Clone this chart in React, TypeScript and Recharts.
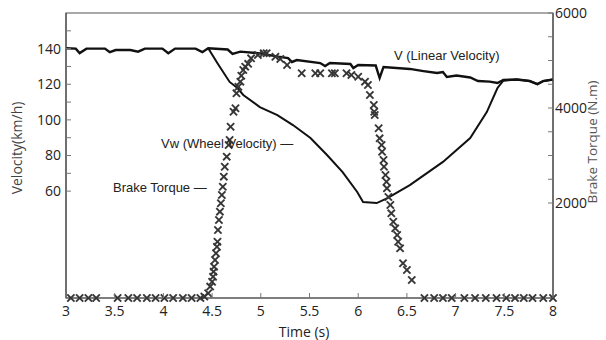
import React from "react";
import { ComposedChart, XAxis, YAxis, Line, Scatter, ReferenceArea } from "recharts";

const WIDTH = 606;
const HEIGHT = 340;

// V (linear velocity), km/h
const linearTime = [3.0, 3.1, 3.14, 3.21, 3.4, 3.45, 3.51, 3.66, 3.74, 3.81, 3.99, 4.05, 4.12, 4.33, 4.4, 4.46, 4.66, 4.71, 4.79, 4.97, 5.18, 5.28, 5.32, 5.37, 5.61, 5.66, 5.71, 5.92, 5.95, 6.0, 6.18, 6.22, 6.26, 6.53, 6.67, 6.81, 6.87, 6.91, 7.01, 7.15, 7.23, 7.35, 7.43, 7.49, 7.63, 7.76, 7.84, 7.9, 8.0];
const linearSpeed = [140.2, 140, 137.5, 140, 140, 138, 139.2, 139.2, 138.3, 140, 140, 137.4, 140, 140, 138, 140.2, 139.5, 137, 138.3, 137.5, 135.5, 134.7, 132.5, 133.6, 131.9, 130.2, 131.9, 131.4, 129.1, 130.8, 130.5, 123.5, 129.7, 128.6, 127.4, 126.3, 126.9, 124.1, 124.9, 123.8, 121.8, 121.5, 120.7, 122.4, 122.7, 121.8, 120.1, 121.8, 122.7];

// Vw (wheel velocity), km/h — identical to V before braking starts
const wheelTime = [4.46, 4.56, 4.68, 4.76, 4.82, 4.99, 5.17, 5.33, 5.51, 5.68, 5.84, 5.99, 6.05, 6.19, 6.3, 6.53, 6.87, 7.15, 7.32, 7.43, 7.49, 7.63, 7.76, 7.84, 7.9, 8.0];
const wheelSpeed = [140.2, 131.4, 121.3, 117.9, 114, 107.2, 102.7, 97.1, 89.8, 80.3, 70.7, 59.5, 53.9, 53.3, 56.1, 63.4, 76.4, 89.8, 104.4, 117.9, 122.0, 122.7, 121.8, 120.1, 121.8, 122.7];

// brake torque samples, N.m
const torqueTime = [
  3.05, 3.14, 3.23, 3.31, 3.53, 3.64, 3.73, 3.83, 3.92, 4.01, 4.1, 4.2, 4.29, 4.38,
  4.42, 4.46, 4.48, 4.5, 4.51, 4.515, 4.52, 4.53, 4.54, 4.55, 4.555, 4.56, 4.57, 4.58, 4.59,
  4.6, 4.61, 4.62, 4.63, 4.65, 4.67, 4.68, 4.69, 4.72, 4.74, 4.75, 4.77, 4.79, 4.8, 4.82,
  4.84, 4.87, 4.9, 4.97, 5.03, 5.06, 5.15, 5.2, 5.27, 5.42, 5.56, 5.61, 5.73, 5.76, 5.88, 5.93, 6.0, 6.07, 6.1,
  6.12, 6.16, 6.165, 6.17, 6.21, 6.22, 6.24, 6.245, 6.26, 6.265, 6.28, 6.29, 6.295, 6.31, 6.33, 6.34,
  6.36, 6.38, 6.4, 6.41, 6.43, 6.46, 6.5, 6.55,
  6.68, 6.78, 6.87, 6.96, 7.09, 7.2, 7.31, 7.42, 7.52, 7.61, 7.7, 7.79, 7.9, 8.0,
];
const torqueValue = [
  0, 0, 0, 0, 0, 0, 0, 0, 0, 0, 0, 0, 0, 0,
  30, 100, 240, 343, 448, 554, 659, 800, 941, 1080, 1185, 1432, 1642, 1817, 1994,
  2168, 2343, 2554, 2764, 2975, 3221, 3326, 3606, 3922, 3994, 4309, 4448, 4554, 4680, 4800,
  4870, 4930, 5046, 5116, 5152, 5152, 5080, 5032, 4905, 4731, 4731, 4731, 4731, 4731, 4731, 4695, 4659, 4554, 4484,
  4274, 4063, 3922, 3853, 3573, 3362, 3221, 3080, 2905, 2764, 2589, 2448, 2309, 2126, 1958, 1783,
  1606, 1467, 1326, 1185, 1046, 731, 589, 379,
  0, 0, 0, 0, 0, 0, 0, 0, 0, 0, 0, 0, 0, 0,
];

const timeTicks = [3, 3.5, 4, 4.5, 5, 5.5, 6, 6.5, 7, 7.5, 8];
const speedTicks = [60, 70, 80, 90, 100, 110, 120, 130, 140, 150];
const speedLabels = [60, 80, 100, 120, 140];
const torqueTicks = [2000, 2500, 3000, 3500, 4000, 4500, 5000, 5500, 6000];
const torqueLabels = [2000, 4000, 6000];

const linearData = linearTime.map((t, i) => ({ t, v: linearSpeed[i] }));
const wheelData = wheelTime.map((t, i) => ({ t, v: wheelSpeed[i] }));
const torqueData = torqueTime.map((t, i) => ({ t, T: torqueValue[i] }));

const tickFont = { fontFamily: "'Open Sans', sans-serif", fontSize: 14, fill: "#222" };
const noteFont = { fontFamily: "'Liberation Sans', Arial, sans-serif", fontSize: 13, fill: "#222" };
const axisColor = "#555";

function LeftTick(props: any) {
  const { x, y, payload } = props;
  return (
    <g>
      <line x1={x} x2={x + 5} y1={y} y2={y} stroke="#777" strokeWidth={1} />
      {speedLabels.includes(payload.value) && (
        <text x={x - 5} y={y} dy="0.35em" textAnchor="end" {...tickFont}>
          {payload.value}
        </text>
      )}
    </g>
  );
}

function RightTick(props: any) {
  const { x, y, payload } = props;
  return (
    <g>
      <line x1={x - 5} x2={x} y1={y} y2={y} stroke="#777" strokeWidth={1} />
      {torqueLabels.includes(payload.value) && (
        <text x={x + 2} y={y} dy="0.35em" textAnchor="start" {...tickFont}>
          {payload.value}
        </text>
      )}
    </g>
  );
}

function BottomTick(props: any) {
  const { x, y, payload } = props;
  return (
    <g>
      <line x1={x} x2={x} y1={y - 5} y2={y} stroke="#777" strokeWidth={1} />
      <text x={x} y={y + 18} textAnchor="middle" {...tickFont}>
        {payload.value}
      </text>
    </g>
  );
}

function CrossMark(props: any) {
  const { cx, cy } = props;
  const s = 3.6;
  return (
    <g stroke="#363636" strokeWidth={1.9}>
      <line x1={cx - s} y1={cy - s} x2={cx + s} y2={cy + s} />
      <line x1={cx - s} y1={cy + s} x2={cx + s} y2={cy - s} />
    </g>
  );
}

export default function App() {
  return (
    <div style={{ position: "absolute", left: 0, top: 0, width: WIDTH, height: HEIGHT, background: "#fff" }}>
      <ComposedChart width={WIDTH} height={HEIGHT} margin={{ top: 13, right: 0, bottom: 0, left: 0 }}>
        <XAxis
          dataKey="t"
          type="number"
          domain={[3, 8]}
          ticks={timeTicks}
          interval={0}
          height={42}
          tickSize={0}
          tickMargin={0}
          tickLine={false}
          tick={<BottomTick />}
          axisLine={{ stroke: axisColor, strokeWidth: 1.2 }}
        />
        <YAxis
          yAxisId="left"
          type="number"
          domain={[0, 160]}
          ticks={speedTicks}
          interval={0}
          width={66}
          tickSize={0}
          tickMargin={0}
          tickLine={false}
          tick={<LeftTick />}
          axisLine={{ stroke: axisColor, strokeWidth: 1.2 }}
        />
        <YAxis
          yAxisId="right"
          orientation="right"
          dataKey="T"
          type="number"
          domain={[0, 6000]}
          ticks={torqueTicks}
          interval={0}
          width={53}
          tickSize={0}
          tickMargin={0}
          tickLine={false}
          tick={<RightTick />}
          axisLine={{ stroke: axisColor, strokeWidth: 1.2 }}
        />
        <ReferenceArea
          yAxisId="left"
          x1={3}
          x2={8}
          y1={0}
          y2={160}
          fill="none"
          fillOpacity={0}
          stroke={axisColor}
          strokeWidth={1.2}
        />
        <Line
          yAxisId="left"
          data={linearData}
          dataKey="v"
          type="linear"
          stroke="#111"
          strokeWidth={2.4}
          dot={false}
          isAnimationActive={false}
        />
        <Line
          yAxisId="left"
          data={wheelData}
          dataKey="v"
          type="linear"
          stroke="#111"
          strokeWidth={2}
          dot={false}
          isAnimationActive={false}
        />
        <Scatter
          yAxisId="right"
          data={torqueData}
          dataKey="T"
          shape={<CrossMark />}
          isAnimationActive={false}
        />
      </ComposedChart>
      <svg
        width={WIDTH}
        height={HEIGHT}
        style={{ position: "absolute", left: 0, top: 0, pointerEvents: "none" }}
      >
        <text
          transform="translate(22,148) rotate(-90)"
          textAnchor="middle"
          fontFamily="'Open Sans', sans-serif"
          fontSize={14}
          fill="#444"
        >
          Velocity(km/h)
        </text>
        <text
          transform="translate(597,142) rotate(-90)"
          textAnchor="middle"
          fontFamily="'Open Sans', sans-serif"
          fontSize={13.5}
          fill="#555"
        >
          Brake Torque (N.m)
        </text>
        <text x={304} y={337} textAnchor="middle" fontFamily="'Open Sans', sans-serif" fontSize={14} fill="#222">
          Time (s)
        </text>
        <text x={394} y={60} {...noteFont}>
          V (Linear Velocity)
        </text>
        <text x={161} y={148} {...noteFont}>
          Vw (Wheel Velocity) —
        </text>
        <text x={113} y={192} {...noteFont}>
          Brake Torque —
        </text>
      </svg>
    </div>
  );
}
